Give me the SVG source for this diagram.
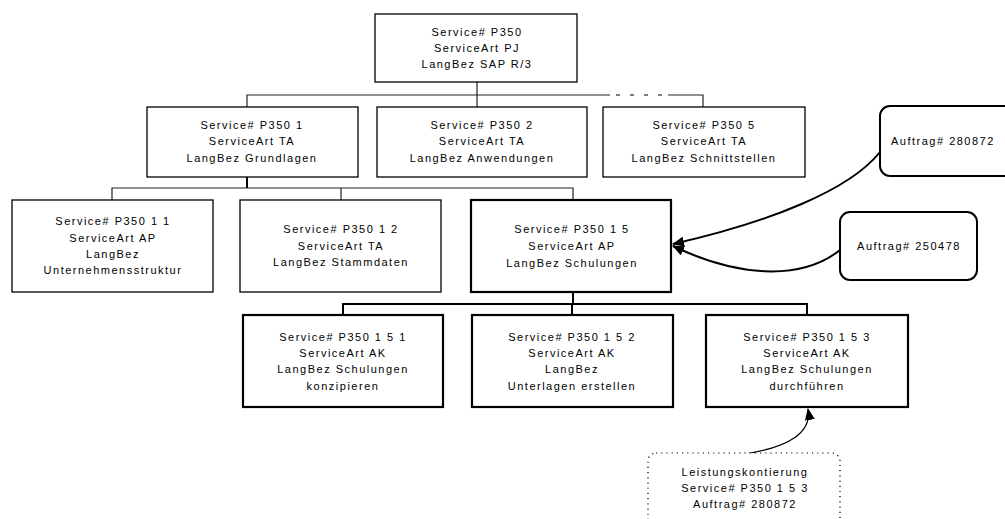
<svg xmlns="http://www.w3.org/2000/svg" width="1005" height="519" viewBox="0 0 1005 519">
  <defs>
    <marker id="arrow" viewBox="0 0 12 10" refX="11" refY="5" markerWidth="12" markerHeight="10" markerUnits="userSpaceOnUse" orient="auto">
      <path d="M0,0 L12,5 L0,10 Z" fill="#000"/>
    </marker>
    <style>
      .box { fill: #fff; stroke: #000; stroke-width: 1.3; }
      .bold { fill: #fff; stroke: #000; stroke-width: 2.2; }
      .call { fill: #fff; stroke: #000; stroke-width: 2; }
      .dotted { fill: #fff; stroke: #000; stroke-width: 1.2; stroke-dasharray: 1.2 4; }
      .t { font-family: "Liberation Sans", Arial, sans-serif; font-size: 11px; letter-spacing: 1.5px; fill: #000; text-anchor: middle; }
      .ts { text-anchor: start; }
      .ln { fill: none; stroke: #222; stroke-width: 1.2; }
      .lnb { fill: none; stroke: #000; stroke-width: 2; }
      .dash { fill: none; stroke: #000; stroke-width: 1.2; stroke-dasharray: 4 10; }
      .cur { fill: none; stroke: #000; stroke-width: 2; }
      .cur1 { fill: none; stroke: #000; stroke-width: 1.2; }
    </style>
  </defs>

  <!-- tree connectors and callout arrows -->
  <g id="connectors">
    <!-- level 0 to level 1 -->
    <path class="ln" d="M477,82 V95"/>
    <path class="ln" d="M247,107 V95 H610"/>
    <path class="dash" d="M616,95 H666"/>
    <path class="ln" d="M668,95 H703 V107"/>
    <path class="ln" d="M477,95 V107"/>
    <!-- level 1 to level 2 -->
    <path class="lnb" d="M247,177 V188"/>
    <path class="ln" d="M112,200 V188 H573 V200"/>
    <path class="ln" d="M341,188 V200"/>
    <!-- level 2 to level 3 -->
    <path class="lnb" d="M573,292 V304"/>
    <path class="lnb" d="M343,315 V304 H807 V315"/>
    <path class="lnb" d="M572,304 V315"/>
    <!-- callouts -->
    <path class="cur" d="M880,152 C850,190 770,222 673,244" marker-end="url(#arrow)"/>
    <path class="cur" d="M840,250 C800,282 735,276 673,246" marker-end="url(#arrow)"/>
    <path class="cur1" d="M745,454 C790,447 812,432 808,409" marker-end="url(#arrow)"/>
  </g>

  <g id="n-p350">
    <rect class="box" x="375" y="14" width="202" height="68"/>
    <text class="t" x="477" y="36">Service# P350</text>
    <text class="t" x="477" y="52">ServiceArt PJ</text>
    <text class="t" x="477" y="68">LangBez SAP R/3</text>
  </g>

  <g id="n-p350-1">
    <rect class="box" x="147" y="107" width="211" height="70"/>
    <text class="t" x="252" y="129">Service# P350 1</text>
    <text class="t" x="252" y="145">ServiceArt TA</text>
    <text class="t" x="252" y="162">LangBez Grundlagen</text>
  </g>

  <g id="n-p350-2">
    <rect class="box" x="377" y="107" width="210" height="70"/>
    <text class="t" x="482" y="129">Service# P350 2</text>
    <text class="t" x="482" y="145">ServiceArt TA</text>
    <text class="t" x="482" y="162">LangBez Anwendungen</text>
  </g>

  <g id="n-p350-5">
    <rect class="box" x="603" y="107" width="202" height="70"/>
    <text class="t" x="704" y="129">Service# P350 5</text>
    <text class="t" x="704" y="145">ServiceArt TA</text>
    <text class="t" x="704" y="162">LangBez Schnittstellen</text>
  </g>

  <g id="n-p350-1-1">
    <rect class="box" x="12" y="200" width="201" height="92"/>
    <text class="t" x="113" y="225">Service# P350 1 1</text>
    <text class="t" x="113" y="242">ServiceArt AP</text>
    <text class="t" x="113" y="258">LangBez</text>
    <text class="t" x="113" y="274">Unternehmensstruktur</text>
  </g>

  <g id="n-p350-1-2">
    <rect class="box" x="240" y="200" width="201" height="92"/>
    <text class="t" x="341" y="233">Service# P350 1 2</text>
    <text class="t" x="341" y="250">ServiceArt TA</text>
    <text class="t" x="341" y="266">LangBez Stammdaten</text>
  </g>

  <g id="n-p350-1-5">
    <rect class="bold" x="471" y="200" width="200" height="92"/>
    <text class="t" x="572" y="233">Service# P350 1 5</text>
    <text class="t" x="572" y="250">ServiceArt AP</text>
    <text class="t" x="572" y="267">LangBez Schulungen</text>
  </g>

  <g id="n-p350-1-5-1">
    <rect class="bold" x="243" y="315" width="200" height="92"/>
    <text class="t" x="343" y="341">Service# P350 1 5 1</text>
    <text class="t" x="343" y="357">ServiceArt AK</text>
    <text class="t" x="343" y="373">LangBez Schulungen</text>
    <text class="t" x="343" y="390">konzipieren</text>
  </g>

  <g id="n-p350-1-5-2">
    <rect class="bold" x="472" y="315" width="201" height="92"/>
    <text class="t" x="572" y="341">Service# P350 1 5 2</text>
    <text class="t" x="572" y="357">ServiceArt AK</text>
    <text class="t" x="572" y="373">LangBez</text>
    <text class="t" x="572" y="390">Unterlagen erstellen</text>
  </g>

  <g id="n-p350-1-5-3">
    <rect class="bold" x="706" y="315" width="202" height="92"/>
    <text class="t" x="807" y="341">Service# P350 1 5 3</text>
    <text class="t" x="807" y="357">ServiceArt AK</text>
    <text class="t" x="807" y="373">LangBez Schulungen</text>
    <text class="t" x="807" y="390">durchführen</text>
  </g>

  <g id="n-auftrag-280872">
    <rect class="call" x="880" y="106" width="150" height="70" rx="10"/>
    <text class="t ts" x="891" y="145">Auftrag# 280872</text>
  </g>

  <g id="n-auftrag-250478">
    <rect class="call" x="840" y="212" width="137" height="68" rx="10"/>
    <text class="t" x="909" y="250">Auftrag# 250478</text>
  </g>

  <g id="n-leistungskontierung">
    <rect class="dotted" x="648" y="453" width="192" height="90" rx="8"/>
    <text class="t" x="745" y="476">Leistungskontierung</text>
    <text class="t" x="745" y="492">Service# P350 1 5 3</text>
    <text class="t" x="745" y="508">Auftrag# 280872</text>
  </g>
</svg>
